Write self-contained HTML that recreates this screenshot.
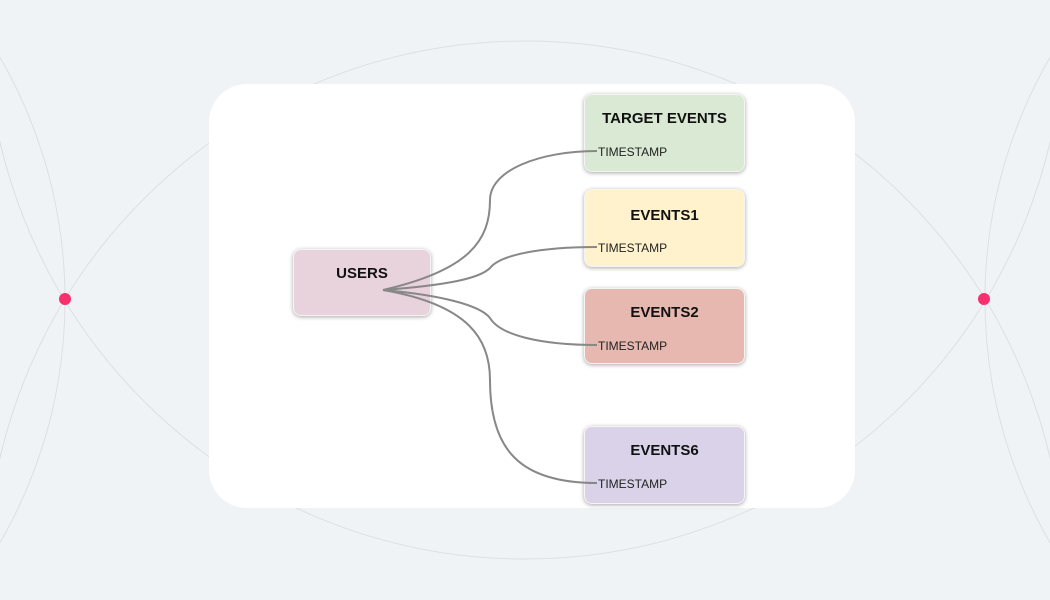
<!DOCTYPE html>
<html style="overflow:hidden"><head><style>
html,body{margin:0;width:1050px;height:600px;overflow:hidden}
body{background:#f0f3f6;position:relative;font-family:"Liberation Sans",sans-serif}
.card{position:absolute;left:209px;top:84px;width:646px;height:424px;background:#fff;border-radius:38px}
.n{position:absolute;border-radius:8px;box-shadow:0 1px 4px rgba(0,0,0,.35);border:1px solid #f4f4f4;box-sizing:border-box}
.t{position:absolute;width:100%;text-align:center;font-weight:bold;font-size:15px;color:#111}
.s{position:absolute;left:13px;font-size:12px;color:#222}
svg{position:absolute;left:0;top:0}
</style></head><body>
<svg width="1050" height="600">
<g fill="none" stroke="#dcdfe3" stroke-width="1">
<circle cx="525" cy="580" r="539"/>
<circle cx="525" cy="20" r="539"/>
<circle cx="-420" cy="300" r="485"/>
<circle cx="1470" cy="300" r="485"/>
</g>
</svg>
<div class="card"></div>
<div class="n" style="left:293px;top:249px;width:138px;height:67px;background:#e8d2dc"><div class="t" style="top:15px">USERS</div></div>
<div class="n" style="left:584px;top:94px;width:161px;height:78px;background:#d9e9d3"><div class="t" style="top:15px">TARGET EVENTS</div><div class="s" style="top:50px">TIMESTAMP</div></div>
<div class="n" style="left:584px;top:189px;width:161px;height:78px;background:#fff2cc"><div class="t" style="top:17px">EVENTS1</div><div class="s" style="top:51px">TIMESTAMP</div></div>
<div class="n" style="left:584px;top:288px;width:161px;height:76px;background:#e6b8af"><div class="t" style="top:15px">EVENTS2</div><div class="s" style="top:50px">TIMESTAMP</div></div>
<div class="n" style="left:584px;top:426px;width:161px;height:78px;background:#d9d2e9"><div class="t" style="top:15px">EVENTS6</div><div class="s" style="top:50px">TIMESTAMP</div></div>
<svg width="1050" height="600">
<g fill="none" stroke="#888" stroke-width="2">
<path d="M383 290 C470 270 490 240 490 200 C490 170 540 151 597 151"/>
<path d="M383 290 C450 285 480 278 490 268 C500 255 540 247 597 247"/>
<path d="M383 290 C440 295 480 305 490 318 C500 335 540 345 597 345"/>
<path d="M383 290 C470 305 490 340 490 380 C490 450 520 483 597 483"/>
</g>
<circle cx="65" cy="299" r="6" fill="#f5306d"/>
<circle cx="984" cy="299" r="6" fill="#f5306d"/>
</svg>
</body></html>
